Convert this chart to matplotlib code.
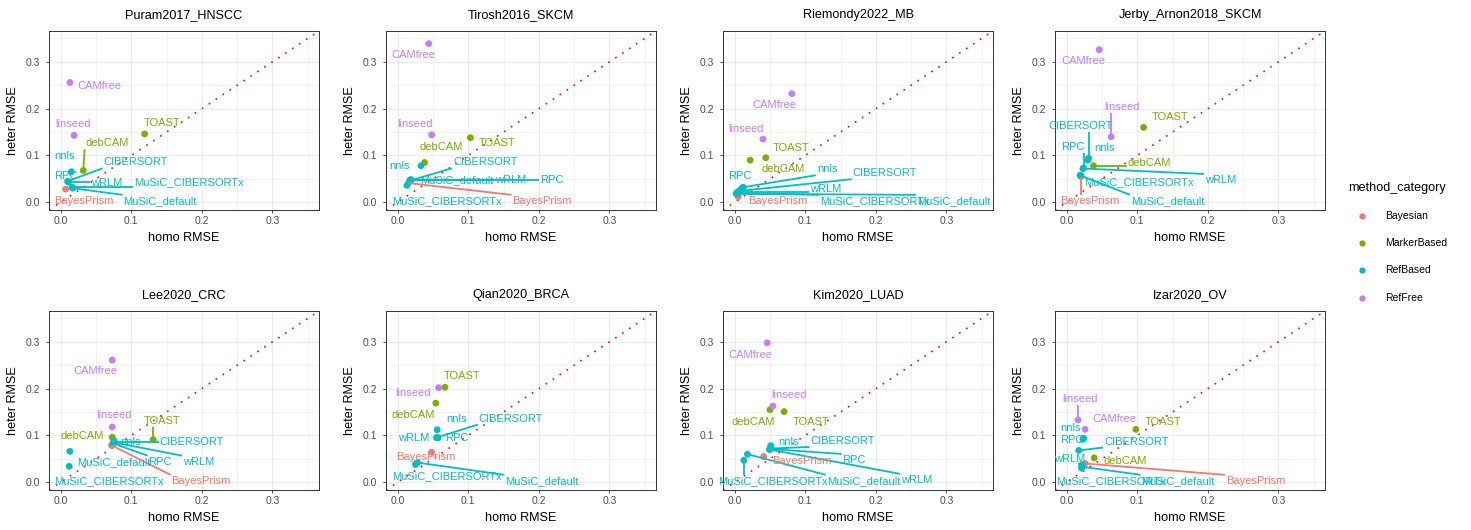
import numpy as np
import matplotlib.pyplot as plt
from matplotlib.lines import Line2D

plt.rcParams['font.family'] = ['Liberation Sans', 'DejaVu Sans']

# methods and their category
methods = ["BayesPrism", "debCAM", "TOAST", "CIBERSORT", "MuSiC_CIBERSORTx",
           "MuSiC_default", "nnls", "RPC", "wRLM", "CAMfree", "linseed"]
method_category = ["Bayesian", "MarkerBased", "MarkerBased", "RefBased", "RefBased",
                   "RefBased", "RefBased", "RefBased", "RefBased", "RefFree", "RefFree"]
categories = ["Bayesian", "MarkerBased", "RefBased", "RefFree"]
cat_colors = {"Bayesian": "#F8766D", "MarkerBased": "#7CAE00",
              "RefBased": "#00BFC4", "RefFree": "#C77CFF"}

datasets = ["Puram2017_HNSCC", "Tirosh2016_SKCM", "Riemondy2022_MB", "Jerby_Arnon2018_SKCM",
            "Lee2020_CRC", "Qian2020_BRCA", "Kim2020_LUAD", "Izar2020_OV"]

# homo / heter RMSE per dataset (same order as methods)
puram_homo = [0.007, 0.032, 0.119, 0.010, 0.016, 0.017, 0.015, 0.010, 0.011, 0.013, 0.019]
puram_heter = [0.028, 0.068, 0.146, 0.045, 0.032, 0.030, 0.065, 0.044, 0.043, 0.256, 0.143]
tirosh_homo = [0.015, 0.038, 0.103, 0.017, 0.013, 0.018, 0.033, 0.019, 0.018, 0.044, 0.048]
tirosh_heter = [0.041, 0.085, 0.138, 0.046, 0.036, 0.048, 0.078, 0.048, 0.047, 0.339, 0.144]
riemondy_homo = [0.005, 0.022, 0.044, 0.006, 0.002, 0.003, 0.012, 0.010, 0.004, 0.081, 0.040]
riemondy_heter = [0.012, 0.090, 0.095, 0.024, 0.019, 0.018, 0.032, 0.030, 0.021, 0.232, 0.135]
jerby_homo = [0.020, 0.038, 0.109, 0.031, 0.019, 0.020, 0.030, 0.024, 0.023, 0.046, 0.063]
jerby_heter = [0.055, 0.078, 0.160, 0.094, 0.058, 0.057, 0.090, 0.073, 0.072, 0.326, 0.140]
lee_homo = [0.072, 0.073, 0.131, 0.075, 0.012, 0.013, 0.076, 0.074, 0.075, 0.073, 0.073]
lee_heter = [0.079, 0.096, 0.091, 0.086, 0.034, 0.066, 0.088, 0.083, 0.085, 0.261, 0.118]
qian_homo = [0.048, 0.054, 0.067, 0.056, 0.025, 0.028, 0.056, 0.057, 0.055, np.nan, 0.058]
qian_heter = [0.064, 0.169, 0.203, 0.096, 0.038, 0.042, 0.112, 0.095, 0.095, np.nan, 0.202]
kim_homo = [0.041, 0.050, 0.070, 0.051, 0.013, 0.018, 0.051, 0.050, 0.049, 0.046, 0.054]
kim_heter = [0.055, 0.155, 0.151, 0.072, 0.047, 0.060, 0.078, 0.071, 0.070, 0.298, 0.163]
izar_homo = [0.026, 0.039, 0.098, 0.017, 0.021, 0.022, 0.024, 0.023, 0.021, 0.026, 0.016]
izar_heter = [0.040, 0.052, 0.113, 0.068, 0.030, 0.033, 0.094, 0.092, 0.037, 0.113, 0.133]

# repelled label positions (layout only)
puram_lab = [(0.033, 0.002), (0.066, 0.126), (0.143, 0.169), (0.1065, 0.0855), (0.182, 0.0435),
             (0.141, 0.003), (0.005, 0.099), (0.007, 0.057), (0.065, 0.042), (0.055, 0.249), (0.017, 0.167)]
tirosh_lab = [(0.2045, 0.003), (0.061, 0.119), (0.1406, 0.1275), (0.124, 0.0855), (0.0696, 0.003),
              (0.084, 0.048), (0.0024, 0.078), (0.2188, 0.048), (0.1605, 0.048), (0.022, 0.315), (0.0246, 0.1667)]
riemondy_lab = [(0.0616, 0.003), (0.068, 0.072), (0.0805, 0.1168), (0.213, 0.062), (0.199, 0.003),
                (0.310, 0.003), (0.131, 0.0705), (0.007, 0.056), (0.129, 0.0285), (0.0568, 0.208), (0.0156, 0.1574)]
jerby_lab = [(0.033, 0.003), (0.117, 0.0847), (0.1458, 0.183), (0.019, 0.164), (0.1018, 0.044),
             (0.143, 0.003), (0.054, 0.115), (0.0094, 0.119), (0.2178, 0.0477), (0.023, 0.302), (0.079, 0.204)]
lee_lab = [(0.199, 0.003), (0.031, 0.0997), (0.143, 0.130), (0.186, 0.0855), (0.069, 0.003),
           (0.0748, 0.044), (0.0985, 0.0855), (0.141, 0.044), (0.1955, 0.044), (0.049, 0.238), (0.0758, 0.143)]
qian_lab = [(0.0402, 0.0534), (0.0223, 0.1439), (0.0909, 0.227), (0.1605, 0.136), (0.0696, 0.012),
            (0.2045, 0.003), (0.0838, 0.136), (0.0838, 0.094), (0.0223, 0.094), None, (0.0223, 0.1916)]
kim_lab = [(0.0947, 0.0456), (0.026, 0.1296), (0.1075, 0.1296), (0.153, 0.0883), (0.0545, 0.003),
           (0.1823, 0.003), (0.0758, 0.0869), (0.1695, 0.0477), (0.258, 0.005), (0.0223, 0.2728), (0.0772, 0.1866)]
izar_lab = [(0.2675, 0.003), (0.083, 0.0456), (0.137, 0.128), (0.0985, 0.0869), (0.0632, 0.003),
            (0.158, 0.003), (0.0047, 0.1167), (0.007, 0.090), (0.0047, 0.049), (0.0677, 0.1353), (0.019, 0.177)]

panels = [(puram_homo, puram_heter, puram_lab), (tirosh_homo, tirosh_heter, tirosh_lab),
          (riemondy_homo, riemondy_heter, riemondy_lab), (jerby_homo, jerby_heter, jerby_lab),
          (lee_homo, lee_heter, lee_lab), (qian_homo, qian_heter, qian_lab),
          (kim_homo, kim_heter, kim_lab), (izar_homo, izar_heter, izar_lab)]

W, H = 1471, 530
fig = plt.figure(figsize=(W / 100, H / 100), dpi=100)
lims = (-0.0166, 0.366)
col_left = [49, 386, 723, 1055]
row_top = [31, 311]
pw, ph = 270, 179

colors = [cat_colors[c] for c in method_category]
texts = []
for i, (hx, hy, lab) in enumerate(panels):
    r, c = divmod(i, 4)
    ax = fig.add_axes([col_left[c] / W, 1 - (row_top[r] + ph) / H, pw / W, ph / H])
    ax.set_xlim(lims)
    ax.set_ylim(lims)
    ax.set_xticks([0, 0.1, 0.2, 0.3], ["0.0", "0.1", "0.2", "0.3"])
    ax.set_yticks([0, 0.1, 0.2, 0.3], ["0.0", "0.1", "0.2", "0.3"])
    ax.set_xticks([0.05, 0.15, 0.25, 0.35], minor=True)
    ax.set_yticks([0.05, 0.15, 0.25, 0.35], minor=True)
    ax.grid(which='major', color='#EBEBEB', lw=0.8)
    ax.grid(which='minor', color='#EBEBEB', lw=0.4)
    ax.set_axisbelow(True)
    ax.tick_params(which='minor', length=0)
    ax.tick_params(which='major', length=2, width=0.6, color='#333333',
                   labelsize=7.5, labelcolor='#4D4D4D')
    ax.tick_params(axis='x', pad=2.3)
    ax.tick_params(axis='y', pad=4.4)
    for s in ax.spines.values():
        s.set_color('#333333')
        s.set_linewidth(0.7)
    ax.text(0.5, 1 + 16 / ph, datasets[i], transform=ax.transAxes,
            ha='center', va='center', fontsize=9.1)
    ax.set_xlabel("homo RMSE", fontsize=9.1)
    ax.set_ylabel("heter RMSE", fontsize=9.1)
    ax.xaxis.set_label_coords(0.5, -28 / ph)
    ax.xaxis.label.set_va('center')
    ax.yaxis.set_label_coords(-35.7 / pw, 0.5)
    ax.yaxis.label.set_va('center')

    ax.axline((0, 0), slope=1, color='red', ls=(0, (1, 4)), lw=1.2, zorder=2)
    ax.scatter(hx, hy, c=colors, s=24, linewidths=0, zorder=3)

    for j, m in enumerate(methods):
        if lab[j] is None or np.isnan(hx[j]):
            continue
        t = ax.text(lab[j][0], lab[j][1], m, color=colors[j], fontsize=8,
                    ha='center', va='center', zorder=5)
        texts.append((ax, t, hx[j], hy[j], colors[j]))

# segments from points to their labels (ggrepel style)
renderer = fig.canvas.get_renderer()
for ax, t, px, py, col in texts:
    bb = t.get_window_extent(renderer)
    p = ax.transData.transform((px, py))
    ex = min(max(p[0], bb.x0 - 1), bb.x1 + 1)
    ey = min(max(p[1], bb.y0 - 1), bb.y1 + 1)
    if np.hypot(ex - p[0], ey - p[1]) > 11:
        q = ax.transData.inverted().transform((ex, ey))
        ax.plot([px, q[0]], [py, q[1]], color=col, lw=1.3, zorder=4,
                solid_capstyle='butt')

# legend
fig.text(1348 / W, 1 - 187.7 / H, "method_category", ha='left', va='center', fontsize=9.1)
for k, cat in enumerate(categories):
    yk = 1 - (215.7 + 27.3 * k) / H
    fig.add_artist(Line2D([1361.7 / W], [yk], marker='o', color=cat_colors[cat],
                          markersize=4.5, markeredgewidth=0, transform=fig.transFigure))
    fig.text(1385 / W, yk, cat, ha='left', va='center', fontsize=7.5)

fig.savefig("out.png", dpi=100)
